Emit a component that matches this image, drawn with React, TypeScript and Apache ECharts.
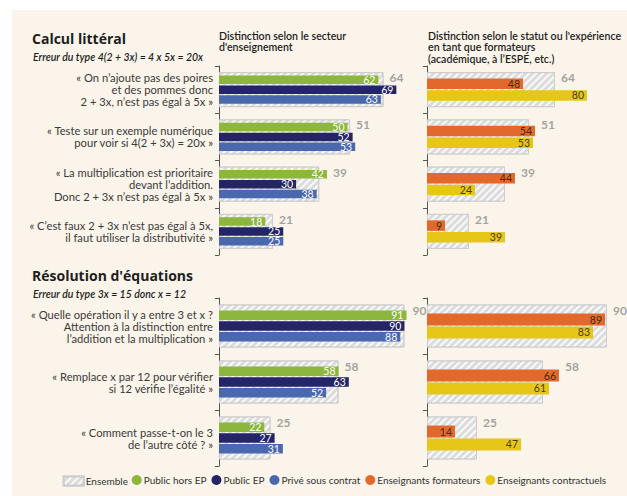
import React, { useEffect, useRef } from "react";
import * as echarts from "echarts";

const catS1 = [
  "« On n’ajoute pas des poires\net des pommes donc\n2 + 3x, n’est pas égal à 5x »",
  "« Teste sur un exemple numérique\npour voir si 4(2 + 3x) = 20x »",
  "« La multiplication est prioritaire\ndevant l’addition.\nDonc 2 + 3x n’est pas égal à 5x »",
  "« C’est faux 2 + 3x n’est pas égal à 5x,\nil faut utiliser la distributivité »",
];
const catS2 = [
  "« Quelle opération il y a entre 3 et x ?\nAttention à la distinction entre\nl’addition et la multiplication »",
  "« Remplace x par 12 pour vérifier\nsi 12 vérifie l’égalité »",
  "« Comment passe-t-on le 3\nde l’autre côté ? »",
];

const ensS1 = [64, 51, 39, 21];
const pubHorsS1 = [62, 50, 42, 18];
const pubEPS1 = [69, 52, 30, 25];
const priveS1 = [63, 53, 38, 25];
const formS1 = [48, 54, 44, 9];
const contrS1 = [80, 53, 24, 39];

const ensS2 = [90, 58, 25];
const pubHorsS2 = [91, 58, 22];
const pubEPS2 = [90, 63, 27];
const priveS2 = [88, 52, 31];
const formS2 = [89, 66, 14];
const contrS2 = [83, 61, 47];

const FONT = "Lato";
const C = {
  ens: "#dcdcdc",
  green: "#8cb63c",
  navy: "#232566",
  blue: "#4a68ad",
  orange: "#e2692b",
  yellow: "#e6c617",
};

const decal = {
  symbol: "rect",
  dashArrayX: [1, 0],
  dashArrayY: [2, 3],
  rotation: -Math.PI / 4,
  color: "rgba(250,250,250,0.95)",
};

function ensSeries(data: number[], g: number, bw: number) {
  return {
    name: "Ensemble",
    type: "bar",
    xAxisIndex: g,
    yAxisIndex: 2 * g,
    data,
    barWidth: bw,
    z: 1,
    itemStyle: { color: C.ens, borderColor: "#cdcdcd", borderWidth: 1, decal },
  };
}

// Ensemble value label, placed after the longer of the Ensemble bar and the top coloured bar
function ensLabel(data: number[], top: number[], g: number, dy: number) {
  return {
    name: "Ensemble (valeur)",
    type: "scatter",
    xAxisIndex: g,
    yAxisIndex: 2 * g,
    symbolSize: 0,
    silent: true,
    z: 5,
    data: data.map((v, i) => ({ value: [Math.max(v, top[i]), i], ens: v })),
    label: {
      show: true,
      position: "right",
      distance: 6,
      offset: [0, dy],
      formatter: (p: any) => String(p.data.ens),
      fontFamily: FONT,
      fontWeight: "bold",
      fontSize: 12,
      color: "#8c8c8c",
    },
  };
}

function colSeries(name: string, color: string, data: number[], g: number, bw: number, gap: string, labelColor: string) {
  return {
    name,
    type: "bar",
    xAxisIndex: g,
    yAxisIndex: 2 * g + 1,
    data,
    barWidth: bw,
    barGap: gap,
    z: 3,
    itemStyle: { color },
    label: {
      show: true,
      position: "insideRight",
      distance: 3,
      fontFamily: FONT,
      fontSize: 10.5,
      color: labelColor,
    },
  };
}

export default function App() {
  const ref = useRef<HTMLDivElement>(null);
  useEffect(() => {
    const chart = echarts.init(ref.current!, null, { renderer: "svg" });
    const grids = [
      { left: 219, top: 66, width: 257, height: 189 },
      { left: 427, top: 66, width: 202, height: 189 },
      { left: 219, top: 298, width: 206, height: 168 },
      { left: 427, top: 298, width: 202, height: 168 },
    ];
    const xAxis = grids.map((_, i) => ({ type: "value", gridIndex: i, min: 0, max: 100, show: false }));
    const yAxis: any[] = [];
    grids.forEach((_, i) => {
      const cats = i < 2 ? catS1 : catS2;
      yAxis.push({
        type: "category",
        gridIndex: i,
        data: cats,
        inverse: true,
        axisLine: { show: true, lineStyle: { color: "#555", width: 1 } },
        axisTick: { show: true, length: 4, lineStyle: { color: "#555" } },
        axisLabel: {
          show: i % 2 === 0,
          fontFamily: FONT,
          fontSize: 11.2,
          lineHeight: 12,
          color: "#3a3a3a",
          margin: 6,
          align: "right",
        },
      });
      yAxis.push({ type: "category", gridIndex: i, data: cats, inverse: true, show: false });
    });

    const series: any[] = [
      ensSeries(ensS1, 0, 35),
      colSeries("Public hors EP", C.green, pubHorsS1, 0, 8.5, "15%", "#fff"),
      colSeries("Public EP", C.navy, pubEPS1, 0, 8.5, "15%", "#fff"),
      colSeries("Privé sous contrat", C.blue, priveS1, 0, 8.5, "15%", "#fff"),
      ensLabel(ensS1, pubHorsS1, 0, -12),
      ensSeries(ensS1, 1, 35),
      colSeries("Enseignants formateurs", C.orange, formS1, 1, 10.5, "10%", "#4a2a12"),
      colSeries("Enseignants contractuels", C.yellow, contrS1, 1, 10.5, "10%", "#4a3c10"),
      ensLabel(ensS1, formS1, 1, -12),
      ensSeries(ensS2, 2, 43),
      colSeries("Public hors EP", C.green, pubHorsS2, 2, 9.5, "14%", "#fff"),
      colSeries("Public EP", C.navy, pubEPS2, 2, 9.5, "14%", "#fff"),
      colSeries("Privé sous contrat", C.blue, priveS2, 2, 9.5, "14%", "#fff"),
      ensLabel(ensS2, pubHorsS2, 2, -16),
      ensSeries(ensS2, 3, 43),
      colSeries("Enseignants formateurs", C.orange, formS2, 3, 12, "8%", "#4a2a12"),
      colSeries("Enseignants contractuels", C.yellow, contrS2, 3, 12, "8%", "#4a3c10"),
      ensLabel(ensS2, formS2, 3, -16),
    ];

    const txt = (text: string, x: number, y: number, extra: any) => ({
      type: "text",
      x,
      y,
      silent: true,
      style: { text, fontFamily: FONT, fill: "#1e1e1e", verticalAlign: "middle", ...extra },
    });

    const legText = { fontFamily: FONT, fontSize: 10, color: "#333", padding: [0, 0, 0, -3] };

    chart.setOption({
      animation: false,
      backgroundColor: "#ffffff",
      graphic: [
        { type: "rect", shape: { x: 12, y: 10, width: 640, height: 500 }, style: { fill: "#faf4ea" }, z: -10, silent: true },
        txt("Calcul littéral", 32, 38.5, { fontSize: 14, fontWeight: "bold", fontFamily: "Open Sans" }),
        txt("Erreur du type 4(2 + 3x) = 4 x 5x = 20x", 33, 56.5, { fontSize: 10.5, fontStyle: "italic", fontWeight: 600 }),
        txt("Résolution d'équations", 32, 275, { fontSize: 14, fontWeight: "bold", fontFamily: "Open Sans" }),
        txt("Erreur du type 3x = 15 donc x = 12", 33, 293.5, { fontSize: 10.5, fontStyle: "italic", fontWeight: 600 }),
        txt("Distinction selon le secteur\nd'enseignement", 219, 30, { fontSize: 10.6, fontWeight: 600, lineHeight: 11.5, verticalAlign: "top" }),
        txt("Distinction selon le statut ou l'expérience\nen tant que formateurs\n(académique, à l’ESPÉ, etc.)", 428, 30, { fontSize: 10.6, fontWeight: 600, lineHeight: 11.5, verticalAlign: "top" }),
      ],
      legend: [
        {
          data: [{ name: "Ensemble", icon: "rect" }],
          left: 62.7,
          top: 475.5,
          padding: 0,
          itemWidth: 20,
          itemHeight: 9,
          textStyle: legText,
          selectedMode: false,
        },
        {
          data: ["Public hors EP", "Public EP", "Privé sous contrat", "Enseignants formateurs", "Enseignants contractuels"].map((n) => ({ name: n, icon: "circle" })),
          left: 131.7,
          top: 475,
          padding: 0,
          itemWidth: 10,
          itemHeight: 10,
          itemGap: 5,
          textStyle: legText,
          selectedMode: false,
        },
      ],
      grid: grids,
      xAxis,
      yAxis,
      series,
    });
    return () => chart.dispose();
  }, []);
  return <div ref={ref} style={{ position: "fixed", left: 0, top: 0, width: 627, height: 496 }} />;
}
